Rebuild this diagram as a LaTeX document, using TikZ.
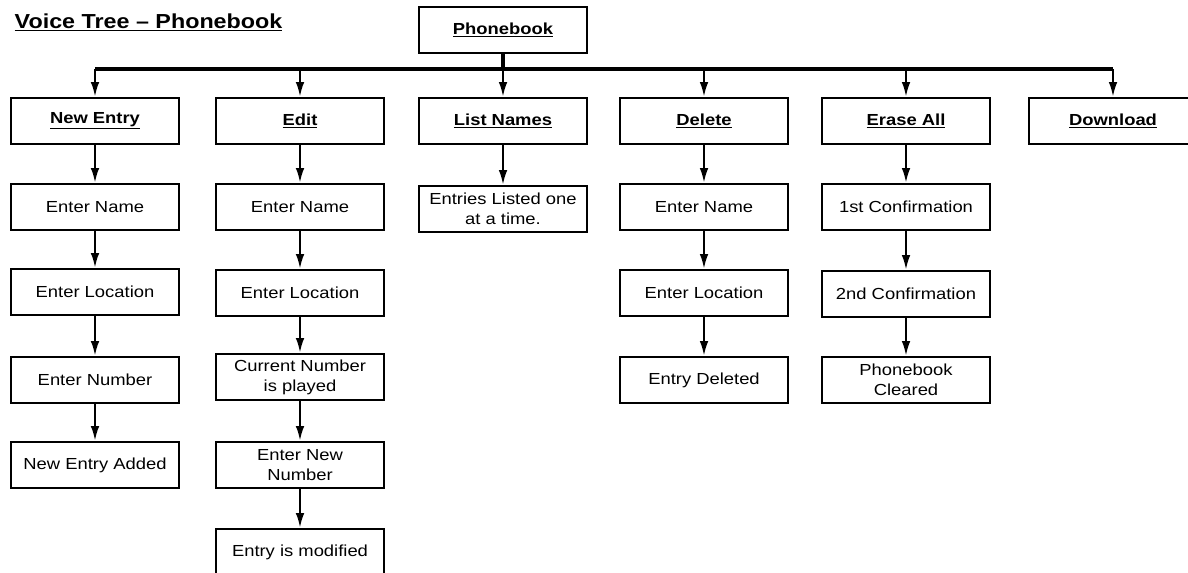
\documentclass[tikz,border=0pt]{standalone}
\usepackage{fontspec}
\setmainfont{Liberation Sans}[FakeStretch=1.15]
\usetikzlibrary{arrows.meta}

\begin{document}
\begin{tikzpicture}[x=0.75pt, y=-0.75pt,
    box/.style={draw, line width=1.5pt, minimum width=126pt, minimum height=35pt, align=center, inner sep=2pt, font=\fontsize{12}{15}\selectfont},
    headbox/.style={box, font=\fontsize{12}{15}\selectfont\bfseries},
    link/.style={-{Latex[length=11pt,width=6.5pt]}, line width=1.5pt},
    bus/.style={line width=2.4pt}]
        \useasboundingbox (0,0) rectangle (1188,572);
        \node [anchor=base west, font=\fontsize{15.2}{18}\selectfont\bfseries] (title) at (10,28) {\underline{Voice Tree -- Phonebook}};
        \node [headbox] (pb) at (503,30) {\underline{Phonebook}};
        \coordinate (fork) at (503,69);
        \node [headbox] (ne) at (95,121) {\underline{New Entry}};
        \node [headbox] (ed) at (300,121) {\underline{Edit}};
        \node [headbox] (ln) at (503,121) {\underline{List Names}};
        \node [headbox] (de) at (704,121) {\underline{Delete}};
        \node [headbox] (ea) at (906,121) {\underline{Erase All}};
        \node [headbox] (dl) at (1113,121) {\underline{Download}};
        \draw [bus] (pb.south) -- (fork);
        \draw [bus] (ne.north |- fork) -- (dl.north |- fork);
        \draw [link] (ne.north |- fork) -- (ne.north);
        \draw [link] (ed.north |- fork) -- (ed.north);
        \draw [link] (ln.north |- fork) -- (ln.north);
        \draw [link] (de.north |- fork) -- (de.north);
        \draw [link] (ea.north |- fork) -- (ea.north);
        \draw [link] (dl.north |- fork) -- (dl.north);
        \node [box] (ne1) at (95,207) {Enter Name};
        \node [box] (ne2) at (95,292) {Enter Location};
        \node [box] (ne3) at (95,380) {Enter Number};
        \node [box] (ne4) at (95,465) {New Entry Added};
        \draw [link] (ne) -- (ne1);
        \draw [link] (ne1) -- (ne2);
        \draw [link] (ne2) -- (ne3);
        \draw [link] (ne3) -- (ne4);
        \node [box] (ed1) at (300,207) {Enter Name};
        \node [box] (ed2) at (300,293) {Enter Location};
        \node [box] (ed3) at (300,377) {Current Number\\is played};
        \node [box] (ed4) at (300,465) {Enter New\\Number};
        \node [box] (ed5) at (300,552) {Entry is modified};
        \draw [link] (ed) -- (ed1);
        \draw [link] (ed1) -- (ed2);
        \draw [link] (ed2) -- (ed3);
        \draw [link] (ed3) -- (ed4);
        \draw [link] (ed4) -- (ed5);
        \node [box] (ln1) at (503,209) {Entries Listed one\\at a time.};
        \draw [link] (ln) -- (ln1);
        \node [box] (de1) at (704,207) {Enter Name};
        \node [box] (de2) at (704,293) {Enter Location};
        \node [box] (de3) at (704,380) {Entry Deleted};
        \draw [link] (de) -- (de1);
        \draw [link] (de1) -- (de2);
        \draw [link] (de2) -- (de3);
        \node [box] (ea1) at (906,207) {1st Confirmation};
        \node [box] (ea2) at (906,294) {2nd Confirmation};
        \node [box] (ea3) at (906,380) {Phonebook\\Cleared};
        \draw [link] (ea) -- (ea1);
        \draw [link] (ea1) -- (ea2);
        \draw [link] (ea2) -- (ea3);
      \end{tikzpicture}
\end{document}
